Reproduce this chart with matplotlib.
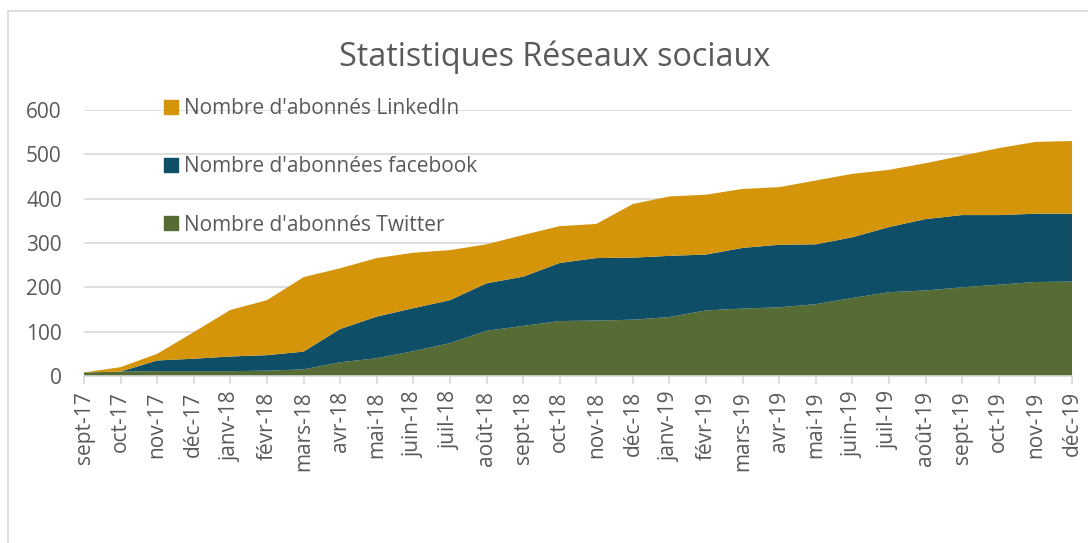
"""
Statistiques Réseaux sociaux - stacked area chart of follower counts.
"""

import numpy as np
import matplotlib.pyplot as plt
from matplotlib.lines import Line2D
from matplotlib.patches import Patch

# ─────────────────────────────────────────────
months = ["sept-17", "oct-17", "nov-17", "déc-17", "janv-18", "févr-18", "mars-18",
          "avr-18", "mai-18", "juin-18", "juil-18", "août-18", "sept-18", "oct-18",
          "nov-18", "déc-18", "janv-19", "févr-19", "mars-19", "avr-19", "mai-19",
          "juin-19", "juil-19", "août-19", "sept-19", "oct-19", "nov-19", "déc-19"]

twitter = [8, 10, 11, 11, 11, 12, 15, 31, 40, 56, 74, 102, 113, 124,
           125, 127, 133, 148, 152, 155, 162, 176, 189, 193, 200, 206, 212, 213]
facebook = [0, 0, 24, 28, 33, 35, 40, 75, 94, 97, 97, 107, 111, 131,
            141, 140, 138, 126, 137, 141, 135, 137, 147, 161, 163, 157, 154, 153]
linkedin = [0, 10, 15, 60, 105, 124, 168, 137, 132, 125, 113, 88, 94, 83,
            77, 121, 134, 135, 133, 130, 144, 143, 129, 126, 134, 151, 162, 164]

labels = ["Nombre d'abonnés Twitter", "Nombre d'abonnées facebook", "Nombre d'abonnés LinkedIn"]
colors = ["#566C34", "#0E4E66", "#D4950B"]

TXT = "#595959"
GRID = "#D9D9D9"
W, H = 1088, 543

plt.rcParams["font.family"] = ["Open Sans", "DejaVu Sans"]

fig = plt.figure(figsize=(W / 100, H / 100), dpi=100)
ax = fig.add_axes([84 / W, 1 - 376 / H, (1072 - 84) / W, (376 - 110) / H])

x = np.arange(len(months))
ax.stackplot(x, twitter, facebook, linkedin, colors=colors, zorder=2)

ax.set_xlim(0, len(months) - 1)
ax.set_ylim(0, 600)
ax.set_yticks(range(0, 601, 100))
ax.yaxis.grid(True, color=GRID, linewidth=1.2, zorder=0)
ax.set_axisbelow(True)

ax.set_xticks(x)
ax.set_xticklabels(months, rotation=90, fontsize=15, color=TXT)
ax.tick_params(axis="x", length=6, color=GRID, width=1.2, pad=5)
ax.tick_params(axis="y", length=0, labelsize=15, labelcolor=TXT, pad=16)

for s in ["top", "right", "left"]:
    ax.spines[s].set_visible(False)
ax.spines["bottom"].set_color(GRID)
ax.spines["bottom"].set_linewidth(1.2)
ax.spines["bottom"].set_zorder(3)

# legend: LinkedIn on top, Twitter at the bottom
handles = [Patch(color=c) for c in colors][::-1]
ax.legend(handles, labels[::-1], loc="center left",
          bbox_to_anchor=(154 / W, 1 - 167 / H), bbox_transform=fig.transFigure,
          frameon=False, fontsize=15, labelcolor=TXT, borderpad=0,
          handlelength=0.64, handleheight=0.64, handletextpad=0.3, labelspacing=1.78)

fig.text(555 / W, 1 - 57 / H, "Statistiques Réseaux sociaux", ha="center", va="center",
         fontsize=23.3, color=TXT)

# chart frame (only top and left edges visible in the crop)
fig.add_artist(Line2D([8 / W, 8 / W], [0, 1 - 11 / H], color=GRID, linewidth=1.2,
                      transform=fig.transFigure))
fig.add_artist(Line2D([8 / W, 1], [1 - 11 / H, 1 - 11 / H], color=GRID, linewidth=1.2,
                      transform=fig.transFigure))

fig.savefig("out.png", dpi=100)
